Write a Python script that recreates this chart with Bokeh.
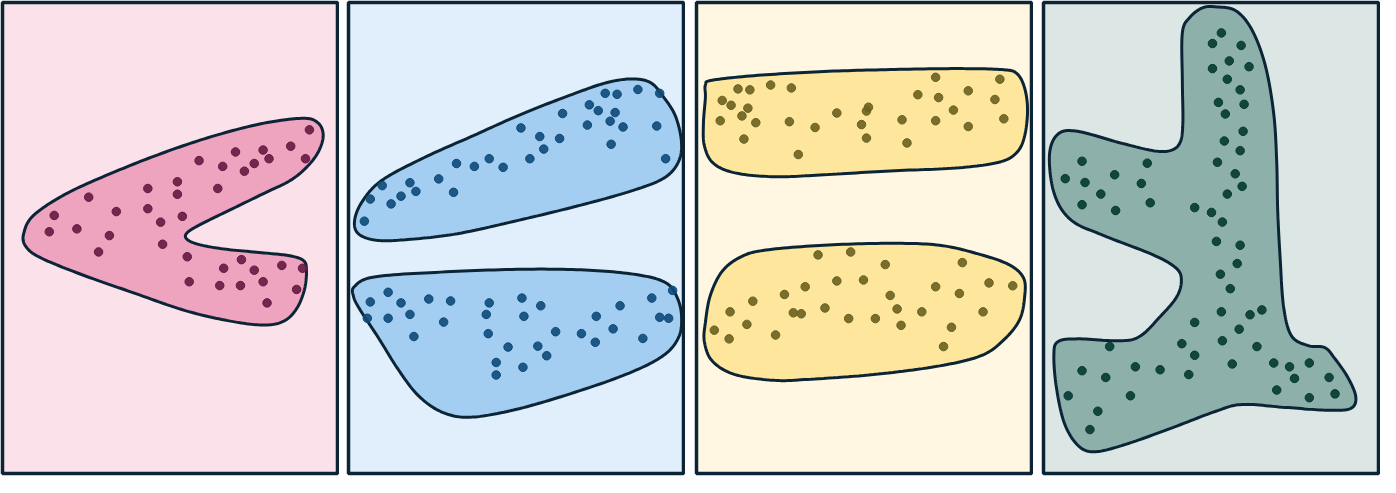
import numpy as np
from bokeh.plotting import figure
from bokeh.layouts import row
from bokeh.models import Range1d
from bokeh.embed import file_html
from bokeh.resources import INLINE

# --- panel 1: chevron cluster ---
pink_x = [313, 294, 309, 238, 266, 272, 257, 247, 225, 201, 179, 179, 220, 149, 149, 184, 162, 164, 89,
          117, 54, 49, 77, 110, 99, 189, 191, 244, 226, 257, 285, 306, 222, 243, 266, 300, 270]
pink_y = [134, 151, 164, 157, 155, 164, 169, 177, 172, 166, 188, 201, 195, 195, 216, 224, 230, 253, 204,
          219, 223, 240, 237, 244, 261, 266, 292, 269, 278, 280, 275, 278, 296, 296, 292, 300, 314]
pink_hull_x = [23, 33, 67, 117, 167, 217, 267, 307, 322, 327, 322, 310, 293, 267, 233, 207, 190, 188, 200,
               227, 267, 293, 307, 310, 308, 300, 287, 267, 233, 187, 133, 83, 40, 25]
pink_hull_y = [242, 223, 200, 177, 157, 140, 127, 122, 127, 140, 157, 173, 187, 200, 217, 230, 240, 247, 253,
               258, 262, 265, 270, 280, 300, 320, 333, 337, 333, 322, 303, 285, 267, 255]

# --- panel 2: two slanted clusters ---
blue_a_x = [259, 271, 292, 314, 243, 252, 269, 216, 264, 241, 277, 311, 174, 193, 213, 197, 265, 320, 183,
            142, 156, 127, 109, 91, 62, 34, 68, 106, 53, 22, 43, 16]
blue_a_y = [96, 97, 92, 96, 108, 114, 116, 117, 125, 129, 131, 130, 132, 141, 143, 154, 149, 164, 164,
            164, 173, 172, 169, 185, 189, 192, 198, 199, 203, 206, 211, 229]
blue_a_hull_x = [6, 13, 33, 76, 126, 176, 226, 260, 286, 305, 318, 330, 336, 333, 320, 293, 243, 176, 110,
                 60, 30, 11]
blue_a_hull_y = [230, 210, 187, 163, 140, 117, 97, 85, 81, 85, 100, 120, 147, 167, 183, 195, 210, 227, 242,
                 248, 249, 243]

blue_b_x = [327, 306, 40, 22, 53, 81, 103, 142, 175, 194, 274, 62, 139, 177, 250, 314, 323, 19, 40, 96,
            267, 209, 235, 141, 66, 297, 249, 161, 191, 200, 149, 176, 149]
blue_b_y = [301, 309, 303, 313, 314, 310, 312, 314, 309, 317, 317, 326, 326, 328, 328, 329, 330, 330, 330, 334,
            341, 344, 346, 346, 349, 351, 355, 360, 359, 369, 376, 381, 389]
blue_b_hull_x = [6, 26, 93, 176, 243, 293, 320, 331, 336, 333, 316, 276, 210, 160, 120, 93, 70, 50, 30, 11, 5]
blue_b_hull_y = [297, 287, 282, 279, 280, 285, 293, 307, 327, 350, 370, 390, 413, 427, 433, 427, 410, 383,
                 350, 320, 307]

# --- panel 3: two flat bands ---
gold_a_x = [242, 307, 42, 54, 75, 96, 224, 245, 275, 302, 26, 35, 52, 174, 172, 260, 46, 142, 24, 60, 94,
            208, 242, 311, 120, 167, 275, 48, 172, 213, 103]
gold_a_y = [79, 81, 91, 92, 87, 90, 97, 100, 93, 102, 103, 108, 111, 110, 114, 113, 119, 116, 124, 126, 125,
            123, 124, 122, 131, 128, 130, 143, 142, 147, 159]
gold_a_hull_x = [9, 16, 62, 129, 196, 262, 309, 324, 332, 335, 332, 324, 306, 262, 196, 129, 79, 39, 17, 8, 7, 9]
gold_a_hull_y = [87, 82, 77, 73, 71, 70, 71, 75, 90, 113, 140, 157, 167, 173, 176, 180, 182, 178, 168, 150,
                 127, 100]

gold_b_x = [123, 156, 191, 269, 142, 169, 110, 242, 296, 320, 89, 196, 266, 57, 130, 203, 34, 98, 106, 228,
            290, 154, 181, 51, 207, 258, 18, 80, 33, 250]
gold_b_y = [263, 260, 273, 271, 290, 289, 296, 296, 292, 295, 304, 305, 303, 311, 318, 319, 322, 323, 324, 322,
            322, 329, 329, 335, 336, 338, 341, 346, 350, 358]
gold_b_hull_x = [45, 70, 129, 196, 246, 285, 316, 331, 332, 327, 312, 289, 246, 179, 112, 79, 39, 16, 8, 9,
                 14, 26]
gold_b_hull_y = [265, 258, 253, 251, 253, 262, 273, 287, 307, 330, 350, 367, 378, 387, 392, 393, 387, 373,
                 353, 333, 305, 280]

# --- panel 4: branching cluster ---
teal_x = [180, 171, 200, 188, 171, 208, 186, 199, 177, 203, 184, 202, 183, 199, 176, 194, 201, 186,
          39, 105, 22, 42, 72, 99, 58, 39, 73, 108, 153, 170, 181, 175, 199, 196, 179, 189, 180, 209,
          221, 153, 198, 140, 181, 216, 67, 153, 39, 93, 118, 63, 147, 191, 233, 249, 269, 254, 289, 25,
          88, 236, 269, 295, 55, 47]
teal_y = [33, 44, 46, 62, 70, 68, 81, 92, 105, 107, 117, 135, 145, 155, 167, 179, 192, 200,
          166, 168, 184, 188, 180, 189, 200, 211, 217, 209, 214, 219, 229, 249, 253, 272, 283, 298, 322, 325,
          320, 333, 340, 355, 352, 358, 358, 367, 383, 379, 382, 390, 387, 376, 375, 379, 375, 391, 390, 409,
          409, 403, 411, 407, 425, 444]
teal_hull_x = [174.5, 194.5, 211, 224.5, 233, 236, 237, 239.5, 243, 251, 268, 284.5, 294.5, 308, 316, 311,
               288, 244.5, 201, 174.5, 128, 81, 51, 34.5, 21, 13, 10.5, 14.5, 34.5, 78, 98, 118, 134.5,
               139.5, 134.5, 111, 61, 28, 11, 6, 14.5, 34.5, 78, 111, 128, 138, 141, 140.5, 140.5, 148, 161]
teal_hull_y = [6, 10, 30, 67, 117, 167, 217, 267, 317, 347, 357, 359, 370, 390, 410, 422, 424, 421, 418, 425,
               443, 460, 467, 460, 437, 400, 367, 353, 350, 352, 347, 327, 307, 290, 277, 263, 243, 227, 200,
               160, 138, 135, 147, 155, 155, 147, 127, 83, 33, 17, 7]

INK = "#0c2536"


def smooth_closed(xs, ys, n=14):
    # closed Catmull-Rom curve through the hull vertices
    pts = np.column_stack([np.asarray(xs, float), np.asarray(ys, float)])
    m = len(pts)
    out = []
    for i in range(m):
        p0, p1, p2, p3 = pts[i - 1], pts[i], pts[(i + 1) % m], pts[(i + 2) % m]
        for t in np.linspace(0, 1, n, endpoint=False):
            out.append(0.5 * (2 * p1 + (p2 - p0) * t
                              + (2 * p0 - 5 * p1 + 4 * p2 - p3) * t * t
                              + (3 * p1 - p0 - 3 * p2 + p3) * t * t * t))
    out = np.array(out)
    return out[:, 0], out[:, 1]


def panel(width, left, bottom, x_range, y_range, bg):
    p = figure(width=width, height=477, x_range=Range1d(*x_range), y_range=Range1d(*y_range),
               output_backend="svg", toolbar_location=None,
               x_axis_location=None, y_axis_location=None,
               min_border_left=left, min_border_right=2, min_border_top=2, min_border_bottom=bottom,
               background_fill_color=bg, border_fill_color="white")
    p.grid.visible = False
    p.outline_line_color = INK
    p.outline_line_width = 3.5
    p.outline_line_alpha = 1
    return p


def cluster(p, hx, hy, xs, ys, fill, dot):
    sx, sy = smooth_closed(hx, hy)
    p.patch(sx, sy, fill_color=fill, line_color=INK, line_width=3)
    p.scatter(xs, ys, size=8.5, fill_color=dot, line_color=dot, fill_alpha=0.9, line_alpha=1)


p1 = panel(339, 2, 2, (1.5, 341.5), (491.5, 1.5), "#fbe1ea")
cluster(p1, pink_hull_x, pink_hull_y, pink_x, pink_y, "#eea3bf", "#651a42")

p2 = panel(346, 9, 2, (0, 338), (491.5, 1.5), "#e1eefb")
cluster(p2, blue_a_hull_x, blue_a_hull_y, blue_a_x, blue_a_y, "#a3cef2", "#0d4a79")
cluster(p2, blue_b_hull_x, blue_b_hull_y, blue_b_x, blue_b_y, "#a3cef2", "#0d4a79")

p3 = panel(348, 11, 4, (0, 339), (489.5, 1.5), "#fff7e2")
cluster(p3, gold_a_hull_x, gold_a_hull_y, gold_a_x, gold_a_y, "#fee79c", "#6b6020")
cluster(p3, gold_b_hull_x, gold_b_hull_y, gold_b_x, gold_b_y, "#fee79c", "#6b6020")

p4 = panel(347, 10, 4, (0, 339), (489.5, 1.5), "#dce6e5")
cluster(p4, teal_hull_x, teal_hull_y, teal_x, teal_y, "#8db1aa", "#053a33")

layout = row(p1, p2, p3, p4)
open("out.html", "w").write(file_html(layout, INLINE))
